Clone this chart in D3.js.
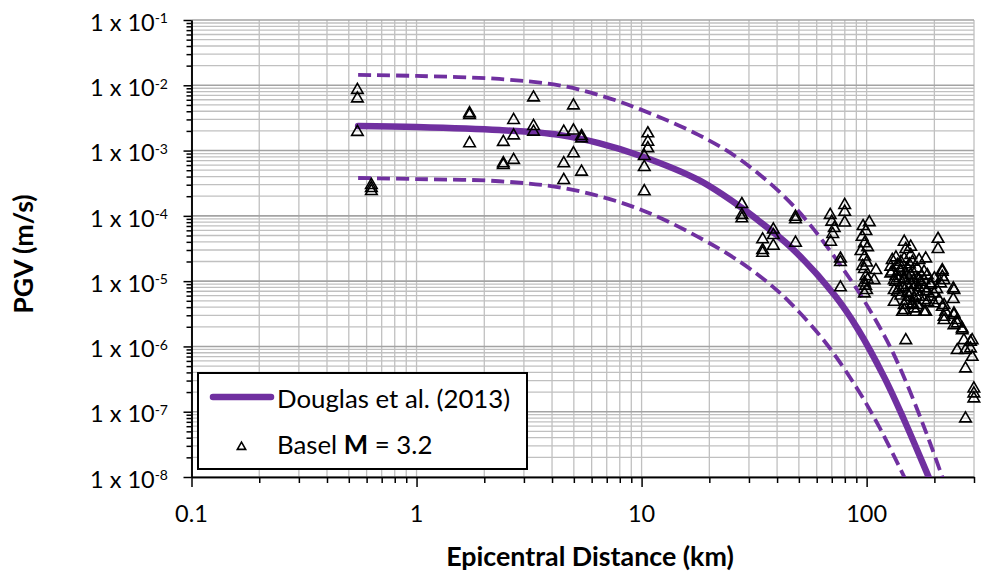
<!DOCTYPE html>
<html>
<head>
  <title>PGV vs Epicentral Distance</title>
  <script src="https://cdnjs.cloudflare.com/ajax/libs/d3/7.8.5/d3.min.js"></script>
  <style>
    body { margin: 0; background: #fff; }
    text { font-family: "Lato", "Open Sans", sans-serif; fill: #000; }
    .grid line { stroke: #c0c0c0; stroke-width: 1.3px; }
    .grid line.major-h { stroke: #a3a3a3; stroke-width: 1.6px; }
    .axis path, .axis line { stroke: #000; stroke-width: 1.5px; }
    .model { fill: none; stroke: #7030a0; }
    .tri { fill: none; stroke: #000; stroke-width: 1.6px; }
  </style>
</head>
<body>
<svg width="982" height="572"></svg>
<script>
// Douglas et al. (2013) model: median and +/- one sigma
var medianDist = [0.55, 1, 2.33, 4.3, 6.46, 10, 17.9, 27.7, 33, 46.1, 72.1, 91.2, 120, 147, 186, 200];
var medianPgv  = [2.37e-3, 2.29e-3, 2.06e-3, 1.74e-3, 1.30e-3, 8.2e-4, 3.55e-4, 1.35e-4, 8.5e-5, 3.3e-5, 6.07e-6, 1.87e-6, 3.33e-7, 7.4e-8, 1.12e-8, 6.2e-9];

var upperDist = [0.55, 1, 2.33, 4.3, 6.46, 10, 17.9, 27.7, 48, 85, 120, 143, 180, 217, 230];
var upperPgv  = [1.44e-2, 1.39e-2, 1.25e-2, 1.0e-2, 7.1e-3, 4.2e-3, 1.74e-3, 7.1e-4, 1.35e-4, 1.04e-5, 1.45e-6, 4.12e-7, 5.82e-8, 1.0e-8, 5.7e-9];

var lowerDist = [0.55, 1, 2.33, 4.77, 10, 21.9, 34, 46, 65.5, 91, 115, 149, 160];
var lowerPgv  = [3.8e-4, 3.66e-4, 3.39e-4, 2.57e-4, 1.23e-4, 3.2e-5, 1.15e-5, 4.57e-6, 1.16e-6, 2.23e-7, 5.45e-8, 9.1e-9, 5.5e-9];

// Basel M 3.2 recordings: [epicentral distance km, PGV m/s]
var baselPoints = [
  [0.546, 8.45e-3], [0.546, 6.26e-3], [0.546, 1.92e-3],
  [0.63, 2.96e-4], [0.63, 2.66e-4], [0.63, 2.39e-4],
  [1.72, 3.72e-3], [1.72, 3.5e-3], [1.72, 1.29e-3],
  [2.43, 1.35e-3], [2.43, 6.36e-4], [2.43, 5.99e-4],
  [2.7, 2.93e-3], [2.7, 1.7e-3], [2.7, 7.15e-4],
  [3.31, 6.49e-3], [3.31, 2.37e-3], [3.31, 1.94e-3],
  [4.51, 1.94e-3], [4.51, 6.36e-4], [4.51, 3.53e-4],
  [4.98, 4.89e-3], [4.98, 2.02e-3], [4.98, 9.05e-4],
  [5.41, 1.66e-3], [5.41, 1.53e-3], [5.41, 4.73e-4],
  [10.66, 1.83e-3], [10.66, 1.36e-3], [10.66, 1.08e-3],
  [10.28, 8.23e-4], [10.28, 5.58e-4], [10.28, 2.37e-4],
  [27.9, 1.51e-4], [27.9, 1.03e-4], [27.9, 9.13e-5],
  [34.5, 4.35e-5], [34.5, 2.98e-5], [34.5, 2.71e-5],
  [38.5, 6.15e-5], [38.5, 5.06e-5], [38.5, 3.47e-5],
  [48.3, 9.66e-5], [48.3, 8.81e-5], [48.3, 3.86e-5],
  [68.9, 1.03e-4], [70, 8.1e-5], [71.8, 6.48e-5], [70.7, 5.25e-5], [69.2, 4.0e-5],
  [79.9, 1.46e-4], [79.9, 1.15e-4], [79.9, 7.87e-5],
  [76.5, 2.21e-5], [76.5, 1.95e-5], [76.5, 8.0e-6],
  [102.8, 7.96e-5], [96.4, 6.95e-5], [99.3, 5.83e-5], [95.5, 4.77e-5], [97.7, 3.78e-5],
  [101, 3.3e-5], [94.4, 2.88e-5], [98, 2.37e-5], [100, 1.92e-5], [96, 1.7e-5],
  [97.7, 1.53e-5], [110, 1.47e-5], [99.3, 1.19e-5], [108, 1.03e-5], [101, 1.05e-5],
  [97.7, 9.47e-6], [99, 8.5e-6], [100, 7.27e-6], [97.7, 6.47e-6],
  [146.9, 4.0e-5], [157, 3.35e-5], [207.6, 4.43e-5], [207.6, 3.09e-5], [149.3, 3.09e-5], [157, 2.5e-5],
  [130, 2.1e-5], [128, 1.66e-5], [128, 1.31e-5], [183, 2.22e-5], [171, 2.1e-5], [159.8, 1.97e-5],
  [146.9, 2.22e-5], [141.9, 1.97e-5],
  [216.9, 1.39e-5], [216.9, 1.16e-5], [213.3, 9.2e-6], [242.7, 7.71e-6], [242.7, 5.29e-6],
  [186.2, 1.23e-5], [192.5, 8.67e-6], [180, 7.71e-6], [168.1, 6.85e-6], [199.3, 6.47e-6],
  [209.7, 5.11e-6], [220.8, 4.28e-6], [224.4, 3.38e-6], [220.8, 2.52e-6], [244.4, 3.19e-6],
  [252.7, 2.24e-6], [266, 1.88e-6], [244.4, 2.11e-6], [270.6, 1.24e-6], [294.4, 1.24e-6],
  [289.4, 9.29e-7], [294.4, 6.9e-7], [275, 8.75e-7], [252.7, 8.75e-7], [275, 4.58e-7],
  [299.6, 2.26e-7], [299.6, 1.9e-7], [299.6, 1.59e-7], [275, 7.85e-8], [149.3, 1.24e-6],
  [137, 1.76e-5], [141.9, 1.39e-5], [146.9, 1.1e-5], [151.9, 8.67e-6], [157, 6.85e-6],
  [162.6, 5.42e-6], [168.1, 4.28e-6], [137, 6.85e-6], [132.6, 4.81e-6], [146.9, 4.28e-6],
  [144.3, 3.38e-6], [162.6, 3.81e-6], [180, 3.38e-6], [186.2, 4.81e-6], [171, 5.74e-6],
  [157, 1.23e-5], [151.9, 1.56e-5], [134.5, 9.74e-6], [139.5, 7.71e-6], [154.5, 5.74e-6],
  [165.2, 8.67e-6], [173.9, 9.74e-6], [180, 1.39e-5], [168.1, 1.56e-5], [168.1, 1.1e-5],
  [132.6, 1.03e-5], [146.9, 1.03e-5], [162.6, 1.03e-5], [180, 1.03e-5], [192.5, 9.2e-6],
  [216.9, 1.47e-5], [220.8, 1.03e-5], [244.4, 7.27e-6], [132.6, 7.27e-6], [141.9, 6.0e-6],
  [151.9, 6.47e-6], [165.2, 6.0e-6], [180, 5.11e-6], [192.5, 5.74e-6], [199.3, 4.55e-6],
  [216.9, 4.03e-6], [146.9, 3.59e-6], [165.2, 3.38e-6], [183, 3.38e-6], [220.8, 2.83e-6],
  [244.4, 3.01e-6], [252.7, 2.52e-6], [266, 1.77e-6], [289.4, 1.17e-6], [130, 1.4e-5],
  [135, 2.3e-5], [143, 1.6e-5], [155, 1.8e-5], [160, 1.4e-5], [150, 1.3e-5], [140, 1.1e-5],
  [175, 1.2e-5], [158, 9e-6], [145, 8e-6], [170, 8e-6], [185, 7e-6], [135, 1.2e-5],
  [150, 5e-6], [160, 4.5e-6], [200, 1.1e-5], [205, 7.5e-6]
];

var xTickValues = [0.1, 1, 10, 100];
var xTickLabels = ["0.1", "1", "10", "100"];
var yTickExponents = [-1, -2, -3, -4, -5, -6, -7, -8];

var svg = d3.select("svg"),
    plotLeft = 191.5, plotRight = 974, plotTop = 20, plotBottom = 477;

var x = d3.scaleLog().domain([0.1, 300]).range([plotLeft, plotRight]);
var y = d3.scaleLog().domain([1e-8, 1e-1]).range([plotBottom, plotTop]);

function isDecade(v) {
  var l = Math.log10(v);
  return Math.abs(l - Math.round(l)) < 1e-9;
}

// gridlines, 1..9 in every decade
var grid = svg.append("g").attr("class", "grid");
grid.selectAll(".gv")
    .data(x.ticks())
  .enter().append("line")
    .attr("x1", function(d) { return x(d); })
    .attr("x2", function(d) { return x(d); })
    .attr("y1", plotTop)
    .attr("y2", plotBottom);
grid.selectAll(".gh")
    .data(y.ticks())
  .enter().append("line")
    .attr("class", function(d) { return isDecade(d) ? "major-h" : null; })
    .attr("x1", plotLeft)
    .attr("x2", plotRight)
    .attr("y1", function(d) { return y(d); })
    .attr("y2", function(d) { return y(d); });

// axes: long ticks at decades, short ones between
svg.append("g")
    .attr("class", "axis")
    .attr("transform", "translate(0," + plotBottom + ")")
    .call(d3.axisBottom(x).tickValues(x.ticks().filter(function(d) { return !isDecade(d); }))
      .tickSize(6).tickSizeOuter(0).tickFormat(""));
svg.append("g")
    .attr("class", "axis")
    .attr("transform", "translate(0," + plotBottom + ")")
    .call(d3.axisBottom(x).tickValues(xTickValues).tickSize(10).tickSizeOuter(0).tickFormat(""));
svg.append("g")
    .attr("class", "axis")
    .attr("transform", "translate(" + plotLeft + ",0)")
    .call(d3.axisLeft(y).tickValues(y.ticks().filter(function(d) { return !isDecade(d); }))
      .tickSize(5).tickSizeOuter(0).tickFormat(""));
svg.append("g")
    .attr("class", "axis")
    .attr("transform", "translate(" + plotLeft + ",0)")
    .call(d3.axisLeft(y).tickValues(yTickExponents.map(function(e) { return Math.pow(10, e); }))
      .tickSize(8).tickSizeOuter(0).tickFormat(""));

// tick labels
svg.selectAll(".xlab")
    .data(xTickValues)
  .enter().append("text")
    .attr("x", function(d) { return x(d); })
    .attr("y", 522)
    .attr("text-anchor", "middle")
    .style("font-size", "23.5px")
    .text(function(d, i) { return xTickLabels[i]; });

var ylab = svg.selectAll(".ylab")
    .data(yTickExponents)
  .enter().append("text")
    .attr("x", 168)
    .attr("y", function(e) { return y(Math.pow(10, e)) + 10.7; })
    .attr("text-anchor", "end")
    .style("font-size", "23.5px");
ylab.append("tspan").text("1 x 10");
ylab.append("tspan")
    .attr("dy", -7.4)
    .style("font-size", "14px")
    .text(function(e) { return "-" + Math.abs(e); });

// axis titles
svg.append("text")
    .attr("x", 590)
    .attr("y", 566)
    .attr("text-anchor", "middle")
    .style("font-size", "26.8px")
    .style("font-weight", "bold")
    .text("Epicentral Distance (km)");
svg.append("text")
    .attr("transform", "translate(33,254) rotate(-90)")
    .attr("text-anchor", "middle")
    .style("font-size", "26.8px")
    .style("font-weight", "bold")
    .text("PGV (m/s)");

// model curves
svg.append("defs").append("clipPath")
    .attr("id", "plot-clip")
  .append("rect")
    .attr("x", plotLeft)
    .attr("y", plotTop)
    .attr("width", plotRight - plotLeft)
    .attr("height", plotBottom - plotTop);

var line = d3.line()
    .x(function(d) { return x(d[0]); })
    .y(function(d) { return y(d[1]); })
    .curve(d3.curveCatmullRom.alpha(0.5));

function zip(a, b) { return a.map(function(d, i) { return [d, b[i]]; }); }

var curves = svg.append("g").attr("clip-path", "url(#plot-clip)");
curves.append("path")
    .datum(zip(upperDist, upperPgv))
    .attr("class", "model")
    .attr("d", line)
    .style("stroke-width", 3.8)
    .style("stroke-dasharray", "13,6");
curves.append("path")
    .datum(zip(lowerDist, lowerPgv))
    .attr("class", "model")
    .attr("d", line)
    .style("stroke-width", 3.8)
    .style("stroke-dasharray", "13,6");
curves.append("path")
    .datum(zip(medianDist, medianPgv))
    .attr("class", "model")
    .attr("d", line)
    .style("stroke-width", 6.5)
    .style("stroke-linecap", "round");

// Basel data, open triangles
var tri = d3.symbol().type(d3.symbolTriangle).size(58);
svg.append("g")
    .selectAll("path")
    .data(baselPoints)
  .enter().append("path")
    .attr("class", "tri")
    .attr("d", tri)
    .attr("transform", function(d) { return "translate(" + x(d[0]) + "," + y(d[1]) + ")"; });

// legend
var legend = svg.append("g");
legend.append("rect")
    .attr("x", 198)
    .attr("y", 373)
    .attr("width", 329)
    .attr("height", 96)
    .style("fill", "#fff")
    .style("stroke", "#000")
    .style("stroke-width", 2);
legend.append("line")
    .attr("x1", 213).attr("x2", 271)
    .attr("y1", 397).attr("y2", 397)
    .attr("class", "model")
    .style("stroke-width", 6.5)
    .style("stroke-linecap", "round");
legend.append("text")
    .attr("x", 277)
    .attr("y", 407.5)
    .style("font-size", "25.8px")
    .text("Douglas et al. (2013)");
legend.append("path")
    .attr("class", "tri")
    .attr("d", d3.symbol().type(d3.symbolTriangle).size(30))
    .attr("transform", "translate(241.5,447)");
var basel = legend.append("text")
    .attr("x", 277)
    .attr("y", 454)
    .style("font-size", "25.8px");
basel.append("tspan").text("Basel ");
basel.append("tspan").style("font-weight", "bold").text("M");
basel.append("tspan").text(" = 3.2");
</script>
</body>
</html>
